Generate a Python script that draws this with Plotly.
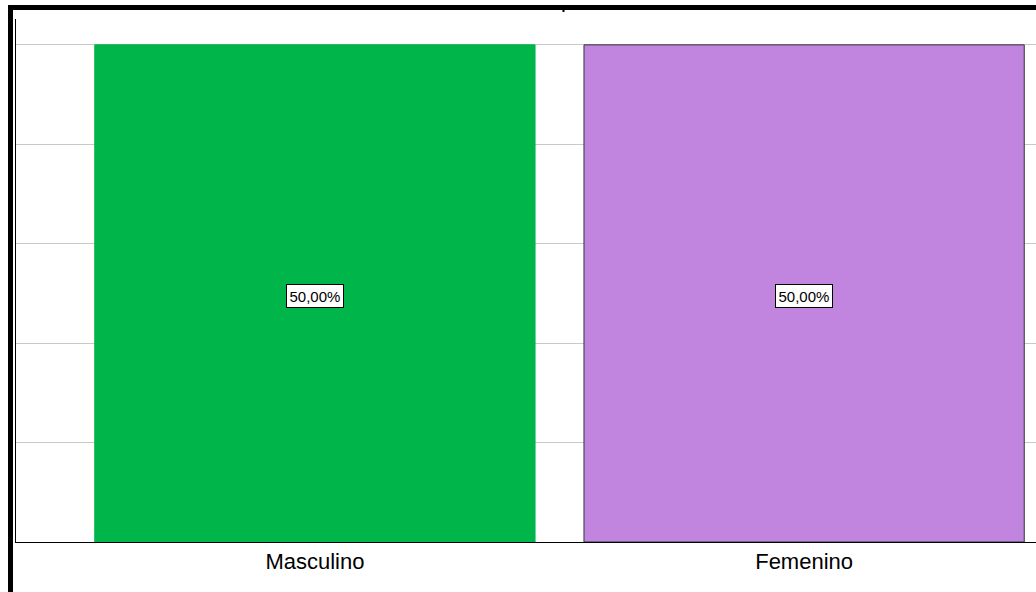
import plotly.graph_objects as go

categories = ["Masculino", "Femenino"]
values = [50.0, 50.0]
labels = ["50,00%", "50,00%"]
colors = ["#00B54A", "#C185E0"]
outline = ["#00B54A", "#333333"]

W, H = 1036, 592
L, R, T, B = 16, 0, 19, 50
pw, ph = W - L - R, H - T - B

def px(x):
    return (x - L) / pw

def py(y):
    return (H - B - y) / ph

fig = go.Figure()
fig.add_trace(go.Bar(
    x=categories, y=values,
    marker=dict(color=colors, line=dict(color=outline, width=1)),
    width=0.9,
    hoverinfo="skip",
))

for c, v, t in zip(categories, values, labels):
    fig.add_annotation(
        x=c, y=v / 2, text=t, showarrow=False, yshift=-3,
        font=dict(family="Liberation Sans, Arial", size=15, color="black"),
        bgcolor="white", bordercolor="black", borderwidth=1, borderpad=2.5,
    )

shapes = [
    dict(type="line", xref="paper", yref="paper", x0=px(8), x1=px(1040), y0=py(7.5), y1=py(7.5),
         line=dict(color="black", width=5)),
    dict(type="line", xref="paper", yref="paper", x0=px(10.5), x1=px(10.5), y0=py(5), y1=py(600),
         line=dict(color="black", width=5)),
    dict(type="line", xref="paper", yref="paper", x0=px(563.5), x1=px(563.5), y0=py(10), y1=py(12),
         line=dict(color="black", width=2)),
]

fig.update_layout(
    width=W, height=H,
    margin=dict(l=L, r=R, t=T, b=B, pad=0),
    paper_bgcolor="white", plot_bgcolor="white",
    showlegend=False,
    shapes=shapes,
    bargap=0.1,
    xaxis=dict(
        range=[-0.611, 1.474], showgrid=False, showline=True, linecolor="black", linewidth=1,
        ticks="", ticklen=0, tickfont=dict(family="Liberation Sans, Arial", size=22, color="black"),
        zeroline=False, fixedrange=True,
    ),
    yaxis=dict(
        range=[0, 52.6], dtick=10, showgrid=True, gridcolor="#C8C8C8", gridwidth=1,
        showline=True, linecolor="black", linewidth=1, showticklabels=False, ticks="",
        zeroline=False, fixedrange=True,
    ),
)

fig.write_html(
    "out.html",
    config={"displayModeBar": False},
    post_script="document.body.style.margin='0';document.body.style.overflow='hidden';",
)
